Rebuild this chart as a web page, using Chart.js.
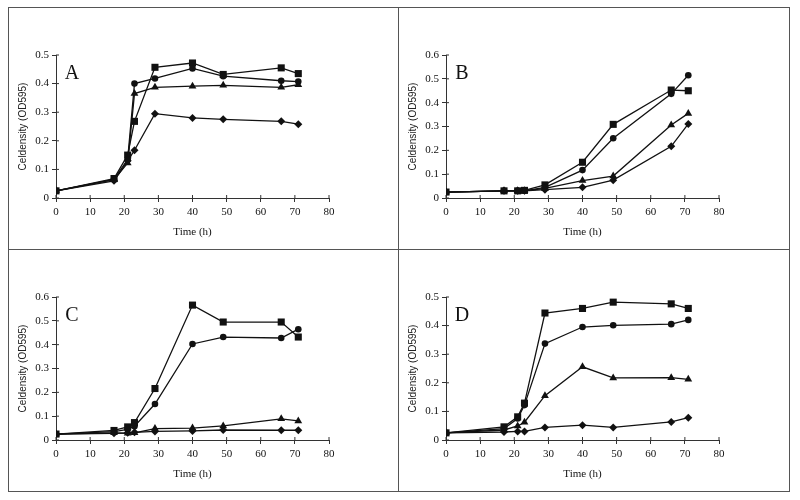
<!DOCTYPE html>
<html lang="en">
<head>
    <meta charset="UTF-8">
    <title>Celdensity</title>
    <script src="https://cdn.jsdelivr.net/npm/chart.js"></script>
    <style>
        body { margin: 0; background: #fff; }
        #frame { position: absolute; left: 8px; top: 7px; width: 780px; height: 483px; border: 1px solid #555; }
        .vline { position: absolute; left: 398px; top: 7px; width: 1px; height: 485px; background: #555; }
        .hline { position: absolute; left: 8px; top: 249px; width: 782px; height: 1px; background: #555; }
        canvas { position: absolute; }
    </style>
</head>
<body>
    <div id="frame"></div>
    <div class="vline"></div>
    <div class="hline"></div>

    <canvas id="chartA" width="390" height="242" style="left:8px;top:7px"></canvas>
    <canvas id="chartB" width="390" height="242" style="left:398px;top:7px"></canvas>
    <canvas id="chartC" width="390" height="242" style="left:8px;top:249px"></canvas>
    <canvas id="chartD" width="390" height="242" style="left:398px;top:249px"></canvas>

    <script>
        // Tijdstippen (h)
        const times = [0, 17, 21, 23, 29, 40, 49, 66, 71];

        // Paneel A
        const aSquares   = [0.025, 0.068, 0.150, 0.268, 0.457, 0.472, 0.432, 0.455, 0.435];
        const aCircles   = [0.025, 0.065, 0.135, 0.400, 0.418, 0.453, 0.426, 0.410, 0.407];
        const aTriangles = [0.025, 0.064, 0.122, 0.365, 0.387, 0.391, 0.394, 0.387, 0.396];
        const aDiamonds  = [0.025, 0.060, 0.130, 0.167, 0.295, 0.280, 0.275, 0.268, 0.258];

        // Paneel B
        const bSquares   = [0.025, 0.030, 0.030, 0.032, 0.055, 0.150, 0.309, 0.453, 0.450];
        const bCircles   = [0.025, 0.030, 0.030, 0.030, 0.045, 0.117, 0.251, 0.437, 0.515];
        const bTriangles = [0.025, 0.030, 0.030, 0.030, 0.040, 0.073, 0.092, 0.306, 0.355];
        const bDiamonds  = [0.025, 0.030, 0.030, 0.030, 0.035, 0.045, 0.075, 0.217, 0.311];

        // Paneel C
        const cSquares   = [0.025, 0.040, 0.055, 0.073, 0.216, 0.566, 0.495, 0.495, 0.432];
        const cCircles   = [0.025, 0.035, 0.045, 0.058, 0.151, 0.403, 0.432, 0.428, 0.465];
        const cTriangles = [0.025, 0.030, 0.028, 0.030, 0.048, 0.050, 0.059, 0.089, 0.080];
        const cDiamonds  = [0.025, 0.028, 0.030, 0.032, 0.036, 0.038, 0.042, 0.041, 0.041];

        // Paneel D
        const dSquares   = [0.025, 0.046, 0.081, 0.129, 0.444, 0.460, 0.482, 0.476, 0.460];
        const dCircles   = [0.025, 0.040, 0.075, 0.122, 0.337, 0.395, 0.401, 0.405, 0.420];
        const dTriangles = [0.025, 0.035, 0.049, 0.062, 0.155, 0.256, 0.217, 0.218, 0.212];
        const dDiamonds  = [0.025, 0.028, 0.030, 0.030, 0.044, 0.052, 0.044, 0.063, 0.078];

        // Y-as maxima per paneel
        const yMaxA = 0.5, yMaxB = 0.6, yMaxC = 0.6, yMaxD = 0.5;

        const serif = '"Liberation Serif", "DejaVu Serif", serif';

        // tekent de korte streepjes binnen de as en de paneelletter
        const extras = {
            id: 'extras',
            afterDraw(chart, args, opts) {
                const ctx = chart.ctx;
                const x = chart.scales.x;
                const y = chart.scales.y;
                ctx.save();
                ctx.strokeStyle = '#333';
                ctx.lineWidth = 1;
                ctx.beginPath();
                x.ticks.forEach((t, i) => {
                    const px = x.getPixelForTick(i);
                    ctx.moveTo(px, x.top);
                    ctx.lineTo(px, x.top - 3);
                });
                y.ticks.forEach((t, i) => {
                    const py = y.getPixelForTick(i);
                    ctx.moveTo(y.right, py);
                    ctx.lineTo(y.right + 3, py);
                });
                ctx.stroke();
                ctx.font = '20px ' + serif;
                ctx.fillStyle = '#111';
                ctx.textAlign = 'center';
                ctx.textBaseline = 'middle';
                ctx.fillText(opts.letter, chart.chartArea.left + 16, chart.chartArea.top + 19);
                ctx.restore();
            }
        };

        function series(values, style, radius) {
            return {
                data: times.map((t, i) => ({ x: t, y: values[i] })),
                borderColor: '#111',
                backgroundColor: '#111',
                borderWidth: 1.3,
                pointStyle: style,
                pointRadius: radius,
                pointBorderWidth: 0,
                tension: 0
            };
        }

        function makeChart(id, letter, yMax, squares, circles, triangles, diamonds) {
            new Chart(document.getElementById(id), {
                type: 'line',
                data: {
                    datasets: [
                        series(diamonds, 'rectRot', 4),
                        series(triangles, 'triangle', 4.5),
                        series(circles, 'circle', 3.3),
                        series(squares, 'rect', 5)
                    ]
                },
                plugins: [extras],
                options: {
                    responsive: false,
                    animation: false,
                    layout: { padding: { top: 48, right: 69, left: 0, bottom: 0 } },
                    plugins: {
                        legend: { display: false },
                        tooltip: { enabled: false },
                        extras: { letter: letter }
                    },
                    scales: {
                        x: {
                            type: 'linear',
                            min: 0,
                            max: 80,
                            afterFit: s => { s.height = 51; },
                            border: { color: '#333', width: 1 },
                            grid: { drawOnChartArea: false, tickLength: 4, color: '#333' },
                            ticks: { stepSize: 10, color: '#111', padding: 4, font: { family: serif, size: 11 } },
                            title: {
                                display: true,
                                text: 'Time (h)',
                                color: '#111',
                                font: { family: serif, size: 11 },
                                padding: { top: 0, bottom: 10 }
                            }
                        },
                        y: {
                            min: 0,
                            max: yMax,
                            afterFit: s => { s.width = 48; },
                            border: { color: '#333', width: 1 },
                            grid: { drawOnChartArea: false, tickLength: 4, color: '#333' },
                            ticks: { stepSize: 0.1, color: '#111', padding: 3, font: { family: serif, size: 11 } },
                            title: {
                                display: true,
                                text: 'Celdensity (OD595)',
                                color: '#222',
                                font: { family: '"Liberation Sans", Arial, sans-serif', size: 10 },
                                padding: { top: 9, bottom: 0 }
                            }
                        }
                    }
                }
            });
        }

        makeChart('chartA', 'A', yMaxA, aSquares, aCircles, aTriangles, aDiamonds);
        makeChart('chartB', 'B', yMaxB, bSquares, bCircles, bTriangles, bDiamonds);
        makeChart('chartC', 'C', yMaxC, cSquares, cCircles, cTriangles, cDiamonds);
        makeChart('chartD', 'D', yMaxD, dSquares, dCircles, dTriangles, dDiamonds);
    </script>
</body>
</html>
